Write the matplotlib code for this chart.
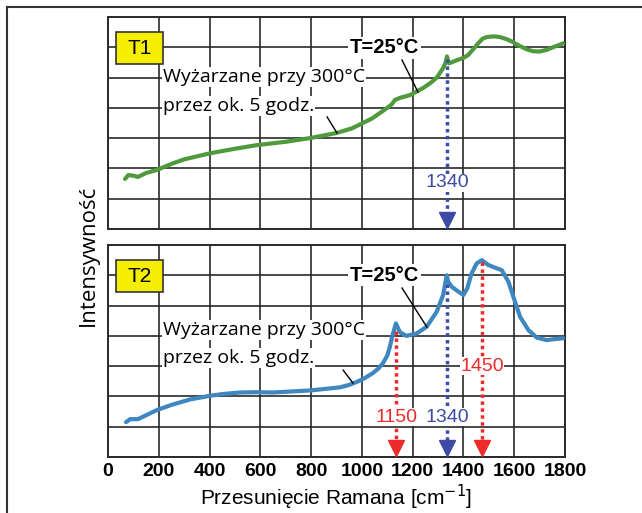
import matplotlib
matplotlib.use('Agg')
import matplotlib.pyplot as plt
from matplotlib.patches import Rectangle
from matplotlib.lines import Line2D

# ---- data ----
t1_shift = [67, 80, 100, 118, 150, 193, 250, 300, 402, 500, 587, 700, 795, 900,
            960, 1004, 1040, 1071, 1100, 1118, 1130, 1150, 1189, 1240, 1270, 1295,
            1319, 1330, 1335, 1343, 1373, 1400, 1418, 1440, 1458, 1475, 1492, 1520,
            1543, 1570, 1595, 1620, 1650, 1675, 1700, 1730, 1752, 1775, 1792]
t1_int = [1.65, 1.78, 1.76, 1.72, 1.85, 1.95, 2.15, 2.3, 2.5, 2.65, 2.77, 2.88, 3.0, 3.17,
          3.32, 3.5, 3.65, 3.83, 4.0, 4.12, 4.26, 4.33, 4.42, 4.65, 4.82, 5.0,
          5.3, 5.5, 5.7, 5.47, 5.57, 5.65, 5.74, 5.95, 6.13, 6.28, 6.34, 6.36,
          6.34, 6.27, 6.17, 6.05, 5.93, 5.87, 5.86, 5.92, 6.0, 6.07, 6.13]

t2_shift = [71, 87, 118, 150, 193, 250, 323, 400, 453, 520, 587, 650, 716, 800, 913,
            950, 980, 1010, 1043, 1065, 1083, 1100, 1110, 1120, 1134, 1150, 1176,
            1216, 1255, 1295, 1320, 1334, 1340, 1354, 1380, 1400, 1415, 1432, 1452,
            1472, 1498, 1531, 1551, 1577, 1603, 1623, 1656, 1689, 1728, 1767, 1793]
t2_int = [1.15, 1.25, 1.25, 1.38, 1.55, 1.72, 1.9, 2.02, 2.08, 2.13, 2.14, 2.13, 2.16, 2.2, 2.3,
          2.38, 2.48, 2.6, 2.77, 2.92, 3.1, 3.35, 3.63, 4.0, 4.41, 4.12, 4.0,
          4.08, 4.3, 4.8, 5.35, 6.0, 5.79, 5.62, 5.46, 5.35, 5.57, 6.06, 6.39,
          6.5, 6.34, 6.23, 6.17, 5.79, 5.13, 4.63, 4.19, 3.94, 3.86, 3.9, 3.92]

# peak markers: position, top of arrow, label, colour, label height
t1_peaks_x = [1335]
t1_peaks_top = [5.6]
t1_peaks_lbl = ['1340']
t1_peaks_col = ['#3d4ba6']
t1_peaks_lbl_y = [1.52]

t2_peaks_x = [1136, 1335, 1474]
t2_peaks_top = [4.15, 5.7, 6.45]
t2_peaks_lbl = ['1150', '1340', '1450']
t2_peaks_col = ['#ee2a2a', '#3d4ba6', '#ee2a2a']
t2_peaks_lbl_y = [1.32, 1.32, 3.0]

xticks = list(range(0, 1801, 200))

W, H = 642, 513
fig = plt.figure(figsize=(W / 100, H / 100), dpi=100)

def px_axes(x0, y0, x1, y1):
    return fig.add_axes([x0 / W, 1 - y1 / H, (x1 - x0) / W, (y1 - y0) / H])

ax1 = px_axes(108, 17, 565, 229)
ax2 = px_axes(108, 245, 565, 457)

SANS = ['Liberation Sans', 'DejaVu Sans']
HUM = ['Open Sans', 'DejaVu Sans']
GRID = '#2a2a2a'


def setup(ax):
    ax.set_xlim(0, 1800)
    ax.set_ylim(0, 7)
    ax.set_xticks(xticks)
    ax.set_yticks(range(0, 8))
    ax.tick_params(length=0, labelleft=False)
    ax.grid(True, color=GRID, lw=1.2)
    ax.set_axisbelow(True)
    for s in ax.spines.values():
        s.set_color(GRID)
        s.set_linewidth(1.4)


def panel(ax, xs, ys, color, tag, px, ptop, plbl, pcol, ply, leaders):
    setup(ax)
    ax.plot(xs, ys, color=color, lw=3, solid_capstyle='round', zorder=3)
    for x, top, lbl, c, ly in zip(px, ptop, plbl, pcol, ply):
        ax.plot([x, x], [top, 0.45], color=c, lw=2.5, ls=(0, (1, 1.0)), zorder=4)
        ax.plot([x], [0.3], marker='v', color=c, ms=12, zorder=5)
        ax.text(x, ly, lbl, color=c, fontsize=14, ha='center', va='center',
                family=SANS, zorder=6,
                bbox=dict(facecolor='white', edgecolor='none', pad=0.3))
    ax.add_patch(Rectangle((0.018, 0.78), 0.102, 0.148, transform=ax.transAxes,
                           facecolor='#f5ee00', edgecolor='#333333', lw=1.2, zorder=6))
    ax.text(0.069, 0.853, tag, transform=ax.transAxes, fontsize=15, ha='center',
            va='center', family=SANS, zorder=7)
    for (xa, ya, xb, yb) in leaders:
        ax.plot([xa, xb], [ya, yb], color='black', lw=1.0, zorder=5)
    return ax


panel(ax1, t1_shift, t1_int, '#4e9a3c', 'T1', t1_peaks_x, t1_peaks_top,
      t1_peaks_lbl, t1_peaks_col, t1_peaks_lbl_y,
      [(1158, 5.58, 1221, 4.52), (863, 3.70, 902, 3.17)])
panel(ax2, t2_shift, t2_int, '#3f87c0', 'T2', t2_peaks_x, t2_peaks_top,
      t2_peaks_lbl, t2_peaks_col, t2_peaks_lbl_y,
      [(1158, 5.58, 1256, 4.29), (926, 2.87, 965, 2.44)])

# annotations
for ax, ty, l1, l2 in [(ax1, 5.98, 5.02, 4.06), (ax2, 6.0, 4.19, 3.27)]:
    ax.text(1089, ty, 'T=25°C', fontsize=14.5, fontweight='bold', ha='center',
            va='center', family=SANS, zorder=6,
            bbox=dict(facecolor='white', edgecolor='none', pad=1))
    ax.text(217, l1, 'Wyżarzane przy 300°C', fontsize=14, ha='left', va='center',
            family=HUM, zorder=6,
            bbox=dict(facecolor='white', edgecolor='none', pad=0.5))
    ax.text(217, l2, 'przez ok. 5 godz.', fontsize=14, ha='left', va='center',
            family=HUM, zorder=6,
            bbox=dict(facecolor='white', edgecolor='none', pad=0.5))

ax1.tick_params(labelbottom=False)
ax2.set_xticklabels([str(v) for v in xticks], fontsize=14, fontweight='bold',
                    family=SANS)
ax2.tick_params(axis='x', pad=4)
ax2.set_xlabel('Przesunięcie Ramana [cm$^{-1}$]', fontsize=15, family=SANS,
               labelpad=2)

fig.text(88 / W, 1 - 255 / H, 'Intensywność', rotation=90, fontsize=16,
         ha='center', va='center', family=HUM)

# outer frame (left and top edges visible)
fig.add_artist(Line2D([7 / W, 7 / W], [0, 1 - 7 / H], color='#333333', lw=1.5))
fig.add_artist(Line2D([7 / W, 1], [1 - 7 / H, 1 - 7 / H], color='#333333', lw=1.5))

fig.savefig('out.png', dpi=100, facecolor='white')
